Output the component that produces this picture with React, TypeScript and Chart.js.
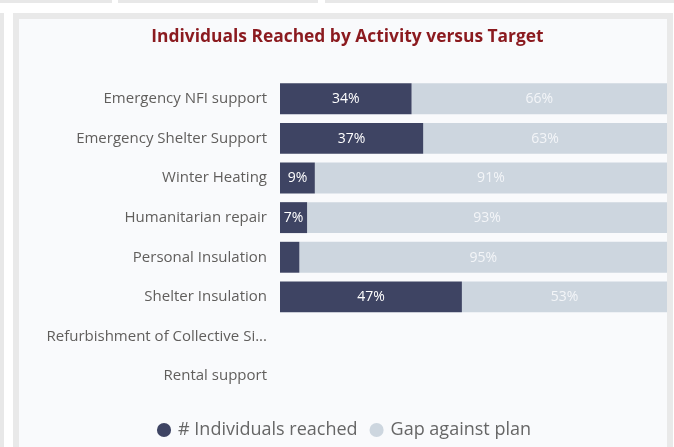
import React, { useEffect, useRef } from "react";
import { Chart, registerables } from "chart.js";

Chart.register(...registerables);

const categories = [
  "Emergency NFI support",
  "Emergency Shelter Support",
  "Winter Heating",
  "Humanitarian repair",
  "Personal Insulation",
  "Shelter Insulation",
  "Refurbishment of Collective Si...",
  "Rental support",
];
const reachedPct = [34, 37, 9, 7, 5, 47, null, null];
const gapPct = [66, 63, 91, 93, 95, 53, null, null];
const seriesNames = ["# Individuals reached", "Gap against plan"];
const chartTitle = "Individuals Reached by Activity versus Target";

const FONT = "'Open Sans', 'Noto Sans', sans-serif";

const barLabels = {
  id: "barLabels",
  afterDatasetsDraw(chart: any) {
    const ctx = chart.ctx;
    ctx.save();
    ctx.font = `14px ${FONT}`;
    ctx.textAlign = "center";
    ctx.textBaseline = "middle";
    chart.data.datasets.forEach((ds: any, di: number) => {
      const meta = chart.getDatasetMeta(di);
      meta.data.forEach((el: any, i: number) => {
        const v = ds.data[i];
        if (v == null) return;
        const txt = `${v}%`;
        const w = Math.abs(el.x - el.base);
        if (ctx.measureText(txt).width + 1 > w) return;
        ctx.fillStyle = di === 0 ? "#ffffff" : "#f3f5f8";
        ctx.fillText(txt, (el.x + el.base) / 2, el.y + 0.5);
      });
    });
    ctx.restore();
  },
};

const boxShift = {
  id: "boxShift",
  afterLayout(chart: any) {
    const lg = chart.legend;
    if (lg) {
      lg.top += 11;
      lg.bottom += 11;
      lg.left += 2;
      lg.right += 2;
    }
    const tb = chart.titleBlock;
    if (tb) {
      tb.left += 4.5;
      tb.right += 4.5;
    }
  },
};

export default function App() {
  const ref = useRef<HTMLCanvasElement | null>(null);
  useEffect(() => {
    if (!ref.current) return;
    const chart = new Chart(ref.current, {
      type: "bar",
      data: {
        labels: categories,
        datasets: [
          {
            label: seriesNames[0],
            data: reachedPct as any,
            backgroundColor: "#3e4463",
            borderWidth: 0,
            categoryPercentage: 0.78,
            barPercentage: 1,
          },
          {
            label: seriesNames[1],
            data: gapPct as any,
            backgroundColor: "#cdd6df",
            borderWidth: 0,
            categoryPercentage: 0.78,
            barPercentage: 1,
          },
        ],
      },
      options: {
        indexAxis: "y",
        animation: false,
        responsive: false,
        maintainAspectRatio: false,
        layout: { padding: { left: 0, right: 0, top: 0, bottom: 9 } },
        scales: {
          x: { stacked: true, min: 0, max: 100, display: false },
          y: {
            stacked: true,
            grid: { display: false, drawTicks: false },
            border: { display: false },
            ticks: {
              padding: 13,
              color: "#605e5c",
              font: { family: FONT, size: 15 },
            },
            afterFit: (scale: any) => {
              scale.width = 261;
            },
          },
        },
        plugins: {
          title: {
            display: true,
            text: chartTitle,
            color: "#8b1a1f",
            font: { family: FONT, size: 17.4, weight: "bold" },
            padding: { top: 8, bottom: 31 },
          },
          legend: {
            display: true,
            position: "bottom",
            labels: {
              usePointStyle: true,
              pointStyle: "circle",
              boxWidth: 10,
              boxHeight: 10,
              padding: 14,
              color: "#666666",
              font: { family: FONT, size: 18 },
            },
          },
          tooltip: { enabled: false },
        },
      },
      plugins: [barLabels, boxShift],
    });
    return () => chart.destroy();
  }, []);

  return (
    <div
      style={{
        position: "absolute",
        left: 0,
        top: 0,
        width: 674,
        height: 447,
        background: "#ffffff",
        overflow: "hidden",
      }}
    >
      <div style={{ position: "absolute", left: 0, top: 0, width: 112, height: 3, background: "#e8e8e8" }} />
      <div style={{ position: "absolute", left: 118, top: 0, width: 200, height: 3, background: "#e8e8e8" }} />
      <div style={{ position: "absolute", left: 325, top: 0, width: 349, height: 3, background: "#e8e8e8" }} />
      <div style={{ position: "absolute", left: 0, top: 13, width: 4, height: 434, background: "#e8e8e8" }} />
      <div
        style={{
          position: "absolute",
          left: 13,
          top: 13,
          width: 660,
          height: 450,
          boxSizing: "border-box",
          border: "6px solid #e9e9e9",
          background: "#f9fafc",
        }}
      />
      <canvas
        ref={ref}
        width={648}
        height={428}
        style={{ position: "absolute", left: 19, top: 19, width: 648, height: 428 }}
      />
    </div>
  );
}
